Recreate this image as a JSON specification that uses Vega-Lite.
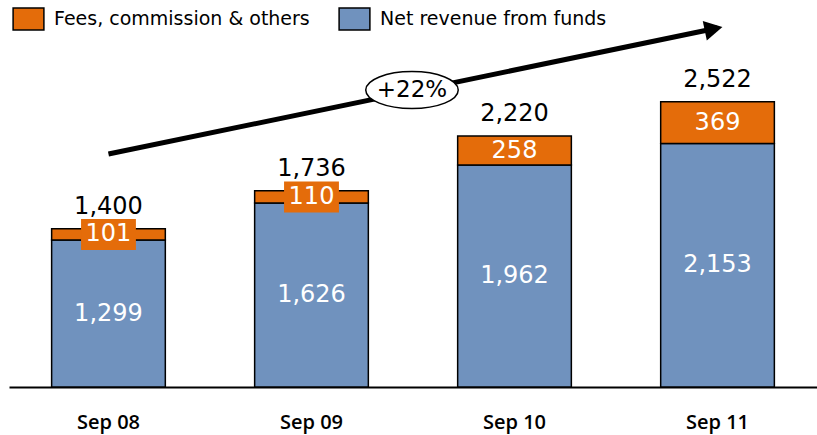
{
  "$schema": "https://vega.github.io/schema/vega-lite/v6.json",
  "width": 808,
  "height": 387,
  "autosize": {"type": "none"},
  "padding": {"left": 9, "top": 0, "right": 0, "bottom": 48},
  "background": "white",
  "config": {"view": {"stroke": null}, "font": "DejaVu Sans"},
  "datasets": {
    "bars": [
      {"period": "Sep 08", "series": "Net revenue from funds", "value": 1299},
      {"period": "Sep 08", "series": "Fees, commission & others", "value": 101},
      {"period": "Sep 09", "series": "Net revenue from funds", "value": 1626},
      {"period": "Sep 09", "series": "Fees, commission & others", "value": 110},
      {"period": "Sep 10", "series": "Net revenue from funds", "value": 1962},
      {"period": "Sep 10", "series": "Fees, commission & others", "value": 258},
      {"period": "Sep 11", "series": "Net revenue from funds", "value": 2153},
      {"period": "Sep 11", "series": "Fees, commission & others", "value": 369}
    ],
    "trend": [
      {"period": "Sep 08", "v": 2060},
      {"period": "Sep 11", "v": 3174}
    ],
    "badge": [
      {"period": "Sep 09", "v": 2626, "label": "+22%"}
    ]
  },
  "encoding": {
    "x": {
      "field": "period",
      "type": "nominal",
      "title": null,
      "scale": {"domain": ["Sep 08", "Sep 09", "Sep 10", "Sep 11"], "paddingInner": 0.44, "paddingOuter": 0.21},
      "axis": {
        "domainColor": "black",
        "domainWidth": 2,
        "ticks": false,
        "tickSize": 0,
        "labelAngle": 0,
        "labelFont": "Open Sans",
        "labelFontWeight": 600,
        "labelFontSize": 20,
        "labelColor": "black",
        "labelBaseline": "middle",
        "labelPadding": 35,
        "grid": false
      }
    }
  },
  "layer": [
    {
      "data": {"name": "bars"},
      "mark": {"type": "bar", "stroke": "black", "strokeWidth": 1.5},
      "encoding": {
        "y": {"field": "value", "type": "quantitative", "stack": "zero", "scale": {"domain": [0, 3422], "nice": false}, "axis": null},
        "color": {
          "field": "series",
          "type": "nominal",
          "scale": {"domain": ["Fees, commission & others", "Net revenue from funds"], "range": ["#E46C0A", "#7092BE"]},
          "legend": {
            "orient": "none",
            "legendX": 7.5,
            "legendY": 7,
            "direction": "horizontal",
            "title": null,
            "symbolType": "M-1.4,-1H1.4V1H-1.4Z",
            "symbolSize": 484,
            "symbolStrokeColor": "black",
            "symbolStrokeWidth": 1.5,
            "symbolOpacity": 1,
            "labelFont": "DejaVu Sans",
            "labelFontSize": 19,
            "labelColor": "black",
            "labelOffset": 13.5,
            "columnPadding": 25,
            "labelLimit": 400
          }
        },
        "order": {"field": "series", "sort": "descending"}
      }
    },
    {
      "data": {"name": "bars"},
      "mark": {"type": "point", "shape": "M-1.77,-1H1.77V1H-1.77Z", "size": 961, "filled": true, "fill": "#E46C0A", "strokeWidth": 0},
      "encoding": {
        "y": {"field": "value", "type": "quantitative", "stack": "zero", "bandPosition": 0.5, "axis": null},
        "detail": {"field": "series"},
        "order": {"field": "series", "sort": "descending"},
        "opacity": {
          "condition": {"test": "datum.series === 'Fees, commission & others' && datum.value < 150", "value": 1},
          "value": 0
        }
      }
    },
    {
      "data": {"name": "bars"},
      "mark": {"type": "text", "color": "white", "fontSize": 24, "font": "DejaVu Sans", "baseline": "middle"},
      "encoding": {
        "y": {"field": "value", "type": "quantitative", "stack": "zero", "bandPosition": 0.5, "axis": null},
        "detail": {"field": "series"},
        "order": {"field": "series", "sort": "descending"},
        "text": {"field": "value", "type": "quantitative", "format": ","}
      }
    },
    {
      "data": {"name": "bars"},
      "mark": {"type": "text", "color": "black", "fontSize": 24, "font": "DejaVu Sans", "baseline": "alphabetic", "dy": -15},
      "encoding": {
        "y": {"aggregate": "sum", "field": "value", "type": "quantitative", "axis": null},
        "text": {"aggregate": "sum", "field": "value", "type": "quantitative", "format": ","}
      }
    },
    {
      "data": {"name": "trend"},
      "mark": {"type": "line", "color": "black", "strokeWidth": 5, "strokeCap": "butt"},
      "encoding": {
        "y": {"field": "v", "type": "quantitative", "axis": null}
      }
    },
    {
      "data": {"name": "trend"},
      "transform": [{"filter": "datum.period === 'Sep 11'"}],
      "mark": {"type": "point", "shape": "M0.5,0L-1.3,-1L-1.3,1Z", "size": 400, "filled": true, "color": "black", "opacity": 1, "angle": 348.3},
      "encoding": {
        "y": {"field": "v", "type": "quantitative", "axis": null}
      }
    },
    {
      "data": {"name": "badge"},
      "mark": {"type": "point", "shape": "M-2.5,0A2.5,1 0 1,1 2.5,0A2.5,1 0 1,1 -2.5,0Z", "size": 1369, "filled": true, "fill": "white", "stroke": "black", "strokeWidth": 1.5, "opacity": 1, "xOffset": 100.5},
      "encoding": {
        "y": {"field": "v", "type": "quantitative", "axis": null}
      }
    },
    {
      "data": {"name": "badge"},
      "mark": {"type": "text", "color": "black", "fontSize": 23, "font": "DejaVu Sans", "baseline": "middle", "xOffset": 100.5},
      "encoding": {
        "y": {"field": "v", "type": "quantitative", "axis": null},
        "text": {"field": "label"}
      }
    }
  ]
}
